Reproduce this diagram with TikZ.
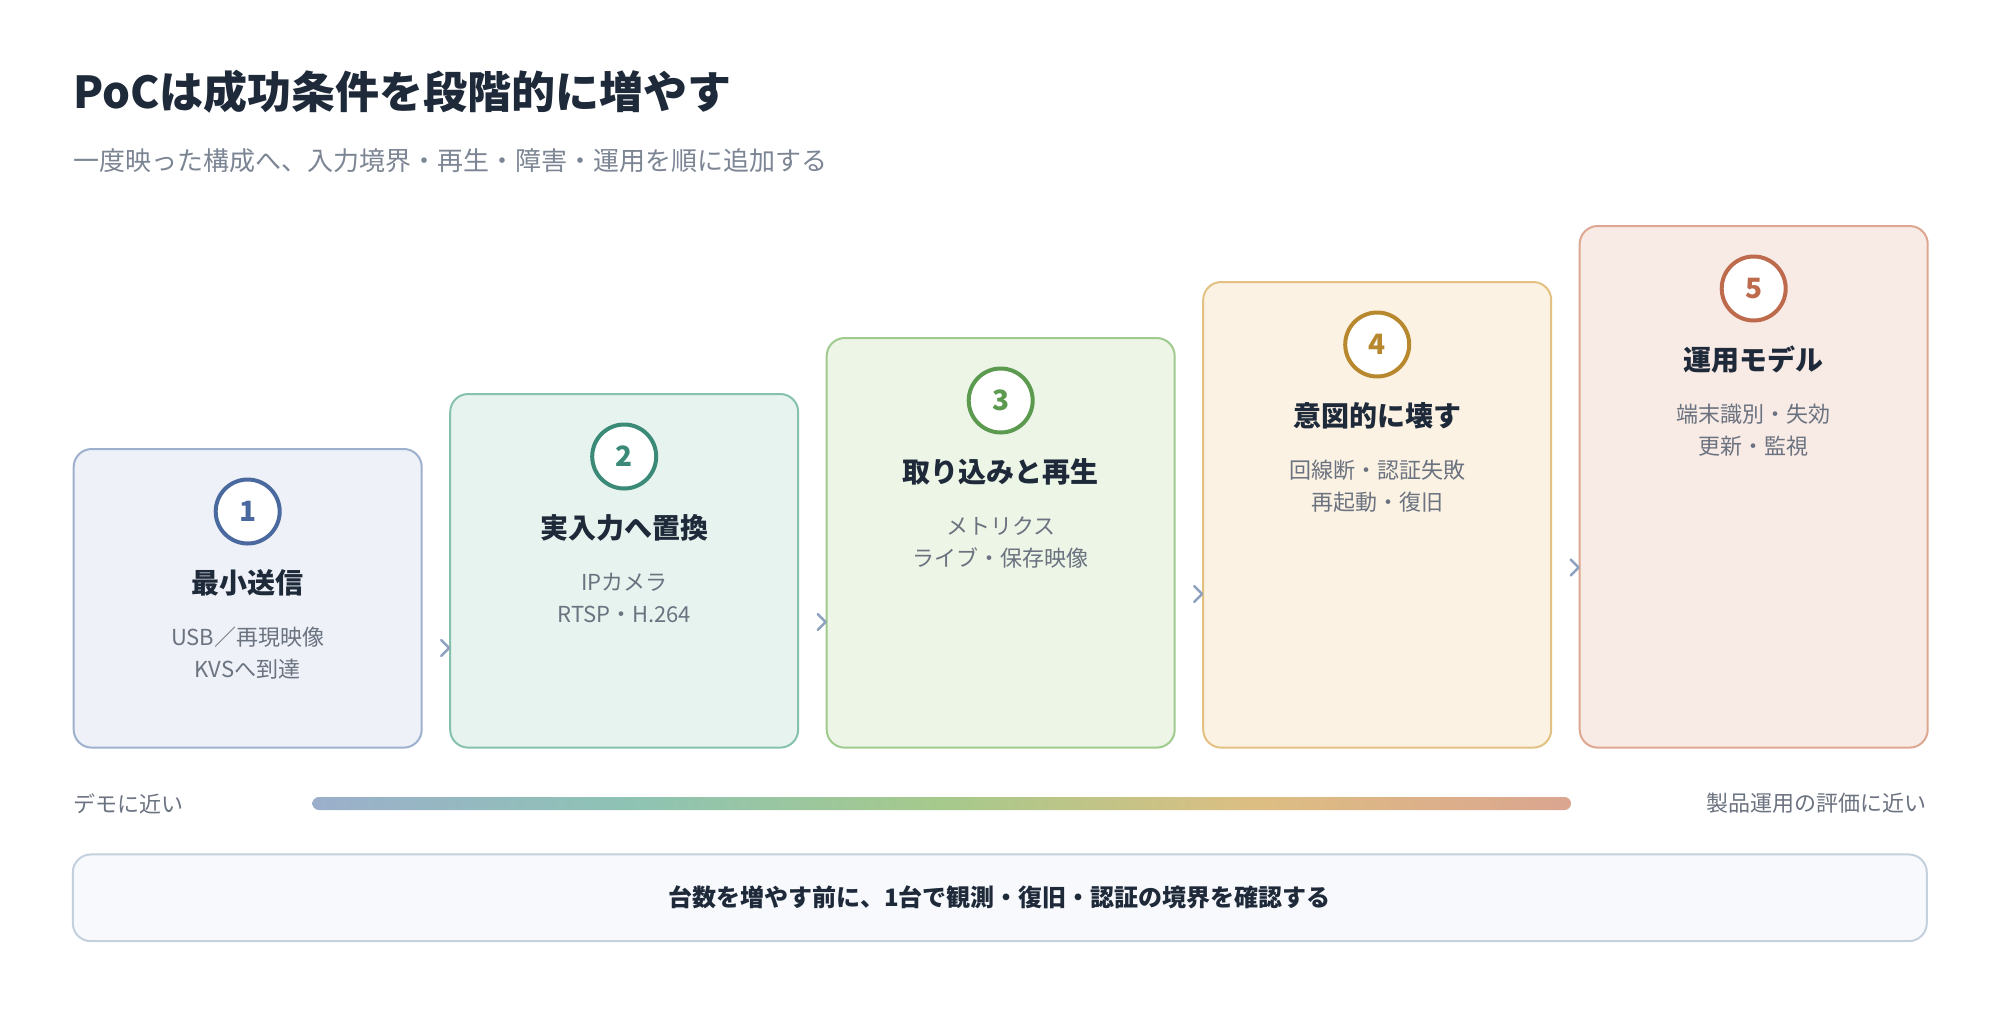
\documentclass[tikz,border=0pt]{standalone}
\usepackage{fontspec}
\setmainfont{Noto Sans CJK JP}
\definecolor{ink}{HTML}{1E2939}
\definecolor{sub}{HTML}{7C8594}
\definecolor{desc}{HTML}{6B7280}
\definecolor{chev}{HTML}{8EA2C0}
\definecolor{bg1}{HTML}{EEF2F8}\definecolor{ln1}{HTML}{9DB0CE}\definecolor{mk1}{HTML}{4A6A9F}
\definecolor{bg2}{HTML}{E7F3EF}\definecolor{ln2}{HTML}{86C1AE}\definecolor{mk2}{HTML}{3B8A77}
\definecolor{bg3}{HTML}{ECF5E6}\definecolor{ln3}{HTML}{9FCB8F}\definecolor{mk3}{HTML}{5B9A4F}
\definecolor{bg4}{HTML}{FBF2E3}\definecolor{ln4}{HTML}{E2C182}\definecolor{mk4}{HTML}{B8882E}
\definecolor{bg5}{HTML}{F8EBE5}\definecolor{ln5}{HTML}{DDA792}\definecolor{mk5}{HTML}{BE6A4C}
\definecolor{barA}{HTML}{9BAFCB}\definecolor{barB}{HTML}{8EC3B4}\definecolor{barC}{HTML}{A6C98C}
\definecolor{barD}{HTML}{DDBE82}\definecolor{barE}{HTML}{DBA590}
\definecolor{notebg}{HTML}{F7F9FC}\definecolor{noteln}{HTML}{C5D0DE}
\pgfdeclarehorizontalshading{barshade}{100bp}{color(0bp)=(barA); color(25bp)=(barA); color(37.5bp)=(barB); color(50bp)=(barC); color(62.5bp)=(barD); color(75bp)=(barE); color(100bp)=(barE)}
\begin{document}
\begin{tikzpicture}[x=1pt, y=-1pt,
  card/.style={draw, line width=2pt, rounded corners=18pt, minimum width=348pt, inner sep=0pt, anchor=south west},
  badge/.style={circle, draw, line width=4pt, fill=white, minimum size=64pt, inner sep=0pt, font=\fontsize{28}{30}\selectfont\bfseries},
  cardtitle/.style={inner sep=0pt, text=ink, font=\fontsize{28}{32}\selectfont\bfseries},
  carddesc/.style={inner sep=0pt, text=desc, font=\fontsize{22}{26}\selectfont},
  chevmark/.style={draw=chev, line width=2.5pt, line cap=round, line join=round}]
  \useasboundingbox[fill=white] (0,0) rectangle (2000,1010);
  \node[anchor=west, inner sep=0pt, text=ink, font=\fontsize{44}{50}\selectfont\bfseries] (title) at (73,92) {PoCは成功条件を段階的に増やす};
  \node[anchor=west, inner sep=0pt, text=sub, font=\fontsize{26}{30}\selectfont] (subtitle) at (73,161) {一度映った構成へ、入力境界・再生・障害・運用を順に追加する};
  \foreach \i/\x/\top/\ttl/\la/\lb in {1/72.7/450/最小送信/USB／再現映像/KVSへ到達, 2/449.2/395/実入力へ置換/IPカメラ/RTSP・H.264, 3/825.7/339/取り込みと再生/メトリクス/ライブ・保存映像, 4/1202.2/283/意図的に壊す/回線断・認証失敗/再起動・復旧, 5/1578.7/227/運用モデル/端末識別・失効/更新・監視} {
    \node[card, fill=bg\i, draw=ln\i, minimum height=748.6pt-\top pt] (card\i) at (\x,748.6) {};
    \node[badge, draw=mk\i, text=mk\i] (num\i) at ([yshift=-63.5pt]card\i.north) {\i};
    \node[cardtitle] (ttl\i) at ([yshift=-135pt]card\i.north) {\ttl};
    \node[carddesc] (da\i) at ([yshift=-189pt]card\i.north) {\la};
    \node[carddesc] (db\i) at ([yshift=-221pt]card\i.north) {\lb};
  }
  \foreach \j/\y in {2/648, 3/622, 4/594, 5/567.5} {
    \coordinate (chev\j) at ([xshift=-4pt]card\j.west |- 0,\y);
    \draw[chevmark] ([shift={(-4pt,8pt)}]chev\j) -- ([xshift=4pt]chev\j) -- ([shift={(-4pt,-8pt)}]chev\j);
  }
  \shade[shading=barshade, rounded corners=6.5pt] (312.4,797) rectangle (1571,810);
  \node[anchor=west, inner sep=0pt, text=desc, font=\fontsize{22}{26}\selectfont] (near) at (73,803.5) {デモに近い};
  \node[anchor=east, inner sep=0pt, text=desc, font=\fontsize{22}{26}\selectfont] (far) at (1927,803.5) {製品運用の評価に近い};
  \node[draw=noteln, fill=notebg, line width=2pt, rounded corners=18pt, minimum width=1854pt, minimum height=86.7pt, inner sep=0pt, text=ink, font=\fontsize{24}{28}\selectfont\bfseries] (note) at (999.8,897.8) {台数を増やす前に、1台で観測・復旧・認証の境界を確認する};
\end{tikzpicture}
\end{document}
